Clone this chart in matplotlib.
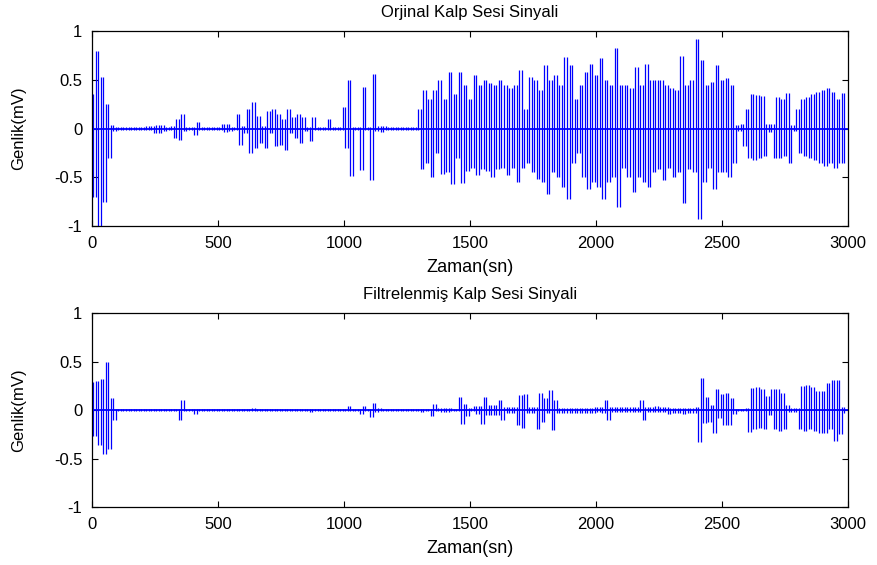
import numpy as np
import matplotlib
matplotlib.use('Agg')
import matplotlib.pyplot as plt

# ===== data =====
# peak magnitude every 10 samples, sign alternates (+,-,+,-,...)
STEP = 10

orjinal = [
    0.35, 0.7, 0.8, 1.0, 0.53, 0.75, 0.25, 0.3, 0.04, 0.03, 0.02, 0.015, 0.02, 0.02, 0.015, 0.02, 0.02, 0.015, 0.02, 0.02,
    0.02, 0.02, 0.025, 0.02, 0.03, 0.05, 0.04, 0.05, 0.04, 0.03, 0.02, 0.02, 0.025, 0.1, 0.1, 0.12, 0.15, 0.03, 0.02, 0.02,
    0.02, 0.07, 0.07, 0.02, 0.02, 0.015, 0.02, 0.02, 0.015, 0.02, 0.02, 0.02, 0.05, 0.04, 0.05, 0.03, 0.02, 0.02, 0.15, 0.17,
    0.03, 0.05, 0.2, 0.25, 0.27, 0.2, 0.13, 0.15, 0.03, 0.2, 0.18, 0.05, 0.2, 0.18, 0.15, 0.17, 0.1, 0.22, 0.2, 0.05,
    0.12, 0.1, 0.15, 0.15, 0.12, 0.03, 0.02, 0.13, 0.12, 0.02, 0.02, 0.02, 0.015, 0.02, 0.1, 0.02, 0.02, 0.015, 0.02, 0.02,
    0.22, 0.2, 0.5, 0.49, 0.02, 0.02, 0.015, 0.43, 0.43, 0.02, 0.02, 0.53, 0.56, 0.03, 0.03, 0.04, 0.03, 0.02, 0.02, 0.015,
    0.02, 0.02, 0.015, 0.02, 0.02, 0.015, 0.02, 0.02, 0.015, 0.02, 0.2, 0.42, 0.4, 0.35, 0.3, 0.5, 0.4, 0.25, 0.5, 0.47,
    0.3, 0.45, 0.58, 0.57, 0.35, 0.3, 0.58, 0.56, 0.45, 0.44, 0.3, 0.4, 0.55, 0.48, 0.45, 0.42, 0.5, 0.44, 0.47, 0.5,
    0.45, 0.42, 0.5, 0.4, 0.45, 0.48, 0.42, 0.4, 0.45, 0.55, 0.6, 0.4, 0.2, 0.35, 0.53, 0.45, 0.5, 0.52, 0.4, 0.55,
    0.65, 0.67, 0.5, 0.45, 0.55, 0.5, 0.45, 0.6, 0.73, 0.72, 0.65, 0.35, 0.3, 0.25, 0.45, 0.5, 0.58, 0.62, 0.66, 0.55,
    0.55, 0.6, 0.72, 0.72, 0.5, 0.55, 0.45, 0.5, 0.83, 0.81, 0.45, 0.4, 0.45, 0.5, 0.42, 0.65, 0.63, 0.5, 0.45, 0.55,
    0.66, 0.6, 0.5, 0.45, 0.5, 0.42, 0.5, 0.53, 0.45, 0.4, 0.42, 0.5, 0.4, 0.45, 0.74, 0.76, 0.45, 0.42, 0.5, 0.45,
    0.92, 0.93, 0.7, 0.55, 0.45, 0.4, 0.48, 0.62, 0.65, 0.45, 0.5, 0.45, 0.52, 0.5, 0.45, 0.35, 0.04, 0.03, 0.05, 0.18,
    0.2, 0.3, 0.35, 0.32, 0.34, 0.3, 0.33, 0.28, 0.05, 0.04, 0.05, 0.3, 0.32, 0.3, 0.3, 0.28, 0.36, 0.35, 0.04, 0.03,
    0.2, 0.25, 0.3, 0.28, 0.32, 0.3, 0.35, 0.32, 0.38, 0.35, 0.4, 0.38, 0.42, 0.35, 0.38, 0.4, 0.3, 0.35, 0.36, 0.35,
]

filtrelenmis = [
    0.29, 0.27, 0.3, 0.36, 0.32, 0.45, 0.5, 0.4, 0.12, 0.1, 0.01, 0.01, 0.01, 0.01, 0.01, 0.01, 0.01, 0.01, 0.01, 0.01,
    0.01, 0.01, 0.01, 0.01, 0.01, 0.01, 0.01, 0.01, 0.01, 0.01, 0.01, 0.01, 0.01, 0.01, 0.01, 0.1, 0.1, 0.01, 0.01, 0.01,
    0.01, 0.04, 0.01, 0.01, 0.01, 0.01, 0.01, 0.01, 0.01, 0.01, 0.01, 0.01, 0.01, 0.01, 0.01, 0.01, 0.01, 0.01, 0.01, 0.01,
    0.01, 0.01, 0.01, 0.01, 0.02, 0.01, 0.01, 0.01, 0.01, 0.01, 0.01, 0.01, 0.01, 0.01, 0.01, 0.01, 0.01, 0.01, 0.01, 0.01,
    0.01, 0.01, 0.01, 0.01, 0.01, 0.01, 0.01, 0.015, 0.01, 0.01, 0.01, 0.01, 0.01, 0.01, 0.01, 0.01, 0.01, 0.01, 0.01, 0.01,
    0.01, 0.01, 0.04, 0.01, 0.01, 0.01, 0.01, 0.04, 0.04, 0.01, 0.01, 0.07, 0.07, 0.02, 0.02, 0.01, 0.01, 0.01, 0.01, 0.01,
    0.01, 0.01, 0.01, 0.01, 0.01, 0.01, 0.01, 0.01, 0.01, 0.01, 0.01, 0.02, 0.01, 0.01, 0.01, 0.06, 0.06, 0.01, 0.02, 0.02,
    0.02, 0.02, 0.02, 0.01, 0.01, 0.01, 0.13, 0.14, 0.06, 0.06, 0.02, 0.01, 0.04, 0.04, 0.04, 0.14, 0.14, 0.05, 0.05, 0.05,
    0.05, 0.05, 0.1, 0.1, 0.03, 0.03, 0.03, 0.03, 0.03, 0.15, 0.16, 0.19, 0.17, 0.03, 0.03, 0.03, 0.03, 0.2, 0.18, 0.12,
    0.12, 0.03, 0.21, 0.21, 0.1, 0.03, 0.02, 0.03, 0.02, 0.03, 0.02, 0.03, 0.02, 0.03, 0.02, 0.03, 0.02, 0.03, 0.02, 0.03,
    0.03, 0.02, 0.03, 0.03, 0.1, 0.1, 0.03, 0.02, 0.03, 0.02, 0.03, 0.02, 0.03, 0.02, 0.03, 0.02, 0.03, 0.02, 0.1, 0.1,
    0.03, 0.02, 0.03, 0.02, 0.04, 0.02, 0.03, 0.02, 0.03, 0.04, 0.02, 0.03, 0.02, 0.03, 0.02, 0.04, 0.02, 0.03, 0.02, 0.03,
    0.03, 0.33, 0.33, 0.13, 0.14, 0.12, 0.05, 0.24, 0.22, 0.08, 0.17, 0.15, 0.18, 0.15, 0.12, 0.04, 0.01, 0.01, 0.01, 0.01,
    0.02, 0.23, 0.23, 0.2, 0.24, 0.18, 0.22, 0.2, 0.15, 0.05, 0.22, 0.2, 0.22, 0.22, 0.18, 0.2, 0.05, 0.02, 0.02, 0.02,
    0.02, 0.2, 0.25, 0.22, 0.26, 0.2, 0.24, 0.22, 0.2, 0.24, 0.2, 0.24, 0.28, 0.2, 0.31, 0.32, 0.31, 0.25, 0.03, 0.03,
]

titles = ['Orjinal Kalp Sesi Sinyali', 'Filtrelenmiş Kalp Sesi Sinyali']
xticks = [0, 500, 1000, 1500, 2000, 2500, 3000]
yticks = [-1, -0.5, 0, 0.5, 1]
ytick_labels = ['-1', '-0.5', '0', '0.5', '1']

plt.rcParams['font.family'] = ['Liberation Sans', 'DejaVu Sans']

fig = plt.figure(figsize=(8.77, 5.65), dpi=100)
boxes = [[0.1049, 0.600, 0.862, 0.345], [0.1049, 0.1027, 0.862, 0.343]]

for box, mags, title in zip(boxes, [orjinal, filtrelenmis], titles):
    mags = np.array(mags)
    sign = np.where(np.arange(len(mags)) % 2 == 0, 1.0, -1.0)
    v = mags * sign
    t = np.arange(len(mags)) * STEP
    ax = fig.add_axes(box)
    # dense signal: each swing between two peaks drawn as an upright stroke
    ax.vlines(t[:-1] + STEP / 2, np.minimum(v[:-1], v[1:]), np.maximum(v[:-1], v[1:]),
              color='#0000ff', lw=0.9)
    ax.axhline(0, color='#0000ff', lw=1.3)
    ax.set_xlim(0, 3000)
    ax.set_ylim(-1, 1)
    ax.set_xticks(xticks)
    ax.set_yticks(yticks)
    ax.set_yticklabels(ytick_labels)
    ax.tick_params(direction='in', length=4, width=0.8, top=True, right=True,
                   labelsize=12, pad=7)
    for s in ax.spines.values():
        s.set_linewidth(0.9)
    ax.set_title(title, fontsize=12, pad=10)
    ax.set_xlabel('Zaman(sn)', fontsize=13, labelpad=6)
    ax.set_ylabel('Genlik(mV)', fontsize=12, labelpad=20)

fig.savefig('out.png', dpi=100)
